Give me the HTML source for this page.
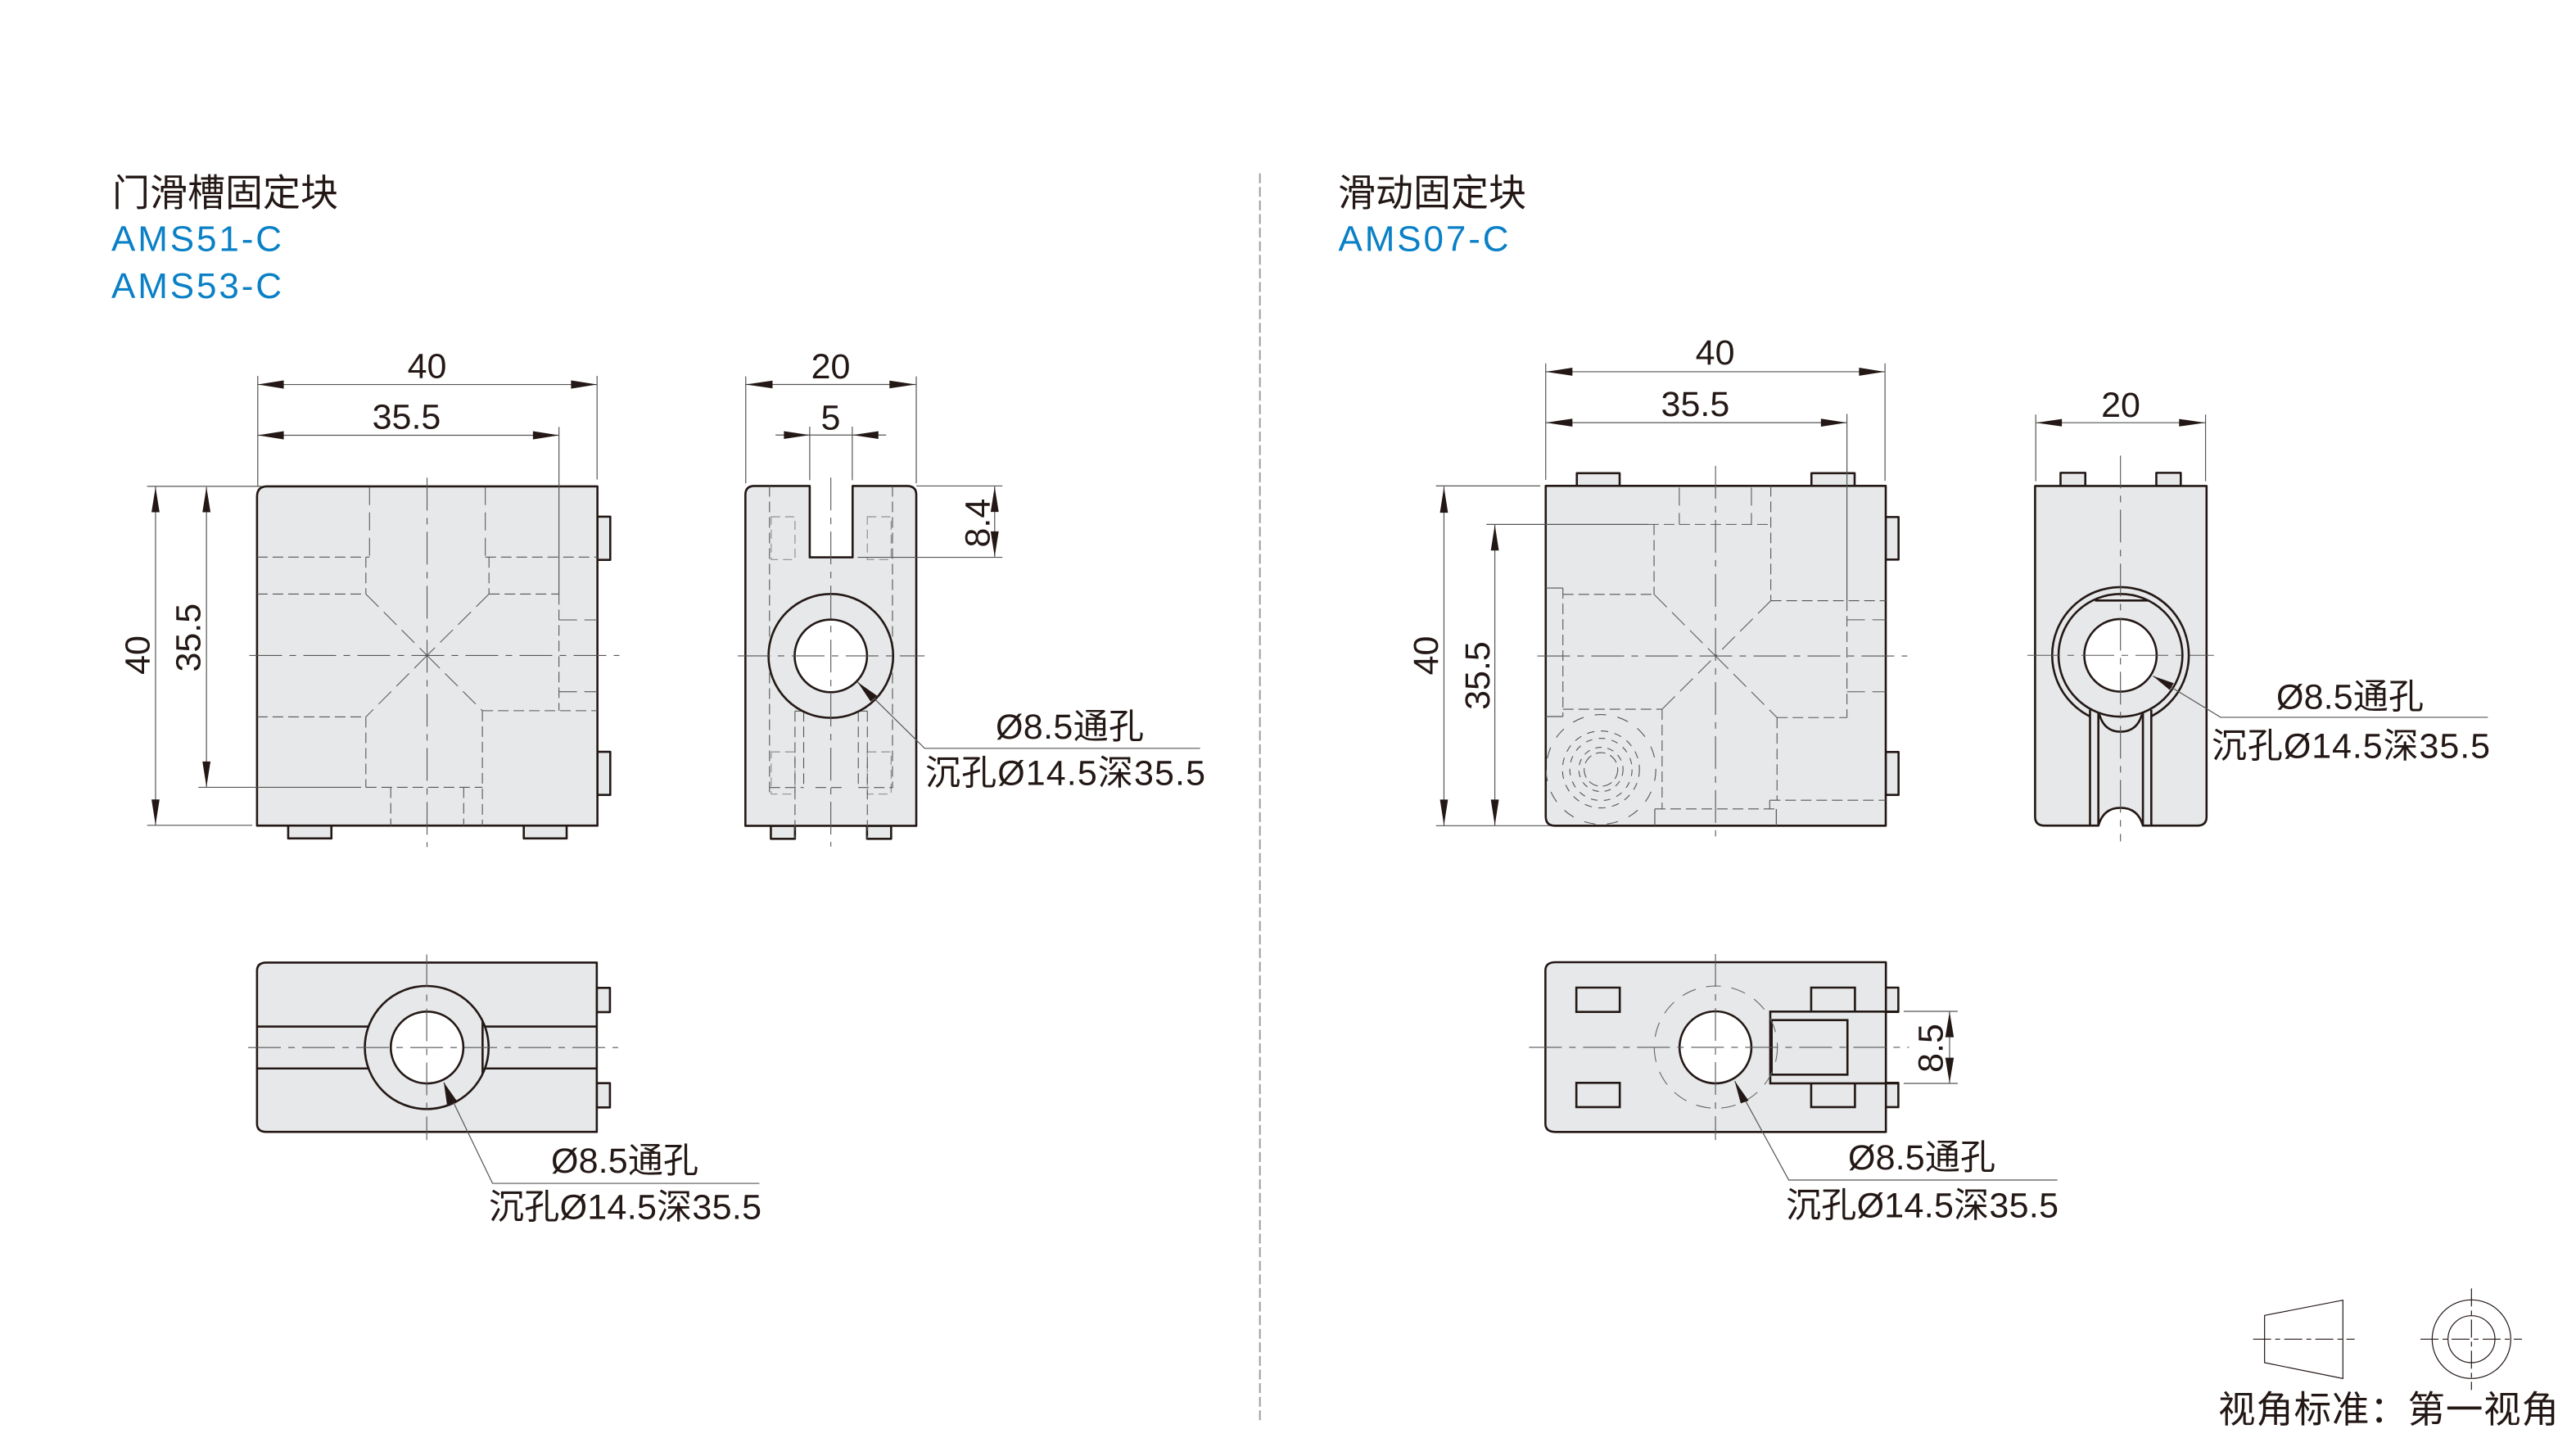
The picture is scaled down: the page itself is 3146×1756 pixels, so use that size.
<!DOCTYPE html>
<html><head><meta charset="utf-8"><title>AMS</title>
<style>
html,body{margin:0;padding:0;background:#fff}
svg{display:block}
svg *{vector-effect:non-scaling-stroke}
text{font-family:"Liberation Sans","Noto Sans CJK SC",sans-serif;fill:#231815;font-size:43px}
.b{fill:#0a80c6;font-size:44px}
.o{fill:#e7e8ea;stroke:#231815;stroke-width:2.6;stroke-linejoin:round}
.w{fill:#fff;stroke:#231815;stroke-width:2.6}
.l{fill:none;stroke:#231815;stroke-width:2.6}
.m{fill:none;stroke:#555;stroke-width:1.2}
.d{fill:none;stroke:#555;stroke-width:1.1;stroke-dasharray:13 6}
.e{fill:none;stroke:#999;stroke-width:1.3;stroke-dasharray:11 6}
.g{fill:none;stroke:#555;stroke-width:1.05;stroke-dasharray:22 9}
.c{fill:none;stroke:#555;stroke-width:1.1;stroke-dasharray:40 9 8 9}
.a{fill:#231815}
</style></head><body>
<svg xmlns="http://www.w3.org/2000/svg" width="3146" height="1756" viewBox="0 0 3146 1756">
<rect width="3146" height="1756" fill="#fff"/>
<line x1="1538.7" y1="211.7" x2="1538.7" y2="1737" stroke="#9d9d9d" stroke-width="2" stroke-dasharray="12 4.6"/>

<!-- titles -->
<text x="137" y="251.5" style="font-size:46px" textLength="276">门滑槽固定块</text>
<text class="b" x="136" y="306.5" textLength="208">AMS51-C</text>
<text class="b" x="136" y="364" textLength="208">AMS53-C</text>
<text x="1634" y="251.5" style="font-size:46px" textLength="230">滑动固定块</text>
<text class="b" x="1634.5" y="306.5" textLength="208">AMS07-C</text>

<!-- view 1 -->
<g transform="translate(100 400) scale(.4475 .4215)">
<rect class="o" x="1407" y="548" width="35" height="125"/>
<rect class="o" x="1407" y="1229" width="35" height="125"/>
<rect class="o" x="563" y="1443" width="118" height="37"/>
<rect class="o" x="1206" y="1443" width="117" height="37"/>
<path class="o" d="M478 1443V490Q478 460 505 460H1407V1443Z"/>
<path class="g" d="M785 462V665M1101 462V665"/>
<path class="d" d="M478 665H785M775 665V772M478 772H775M1101 665H1407M1111 665V772M1111 772H1302M1302 772V1110M1093 1110H1407M1093 1110V1443M478 1128H775M775 1128V1332M775 1332H1093M843 1332V1443M1042 1332V1443"/>
<path class="g" d="M775 772L942 950M1111 772L942 950M942 950L1093 1110M942 950L775 1128M1302 847H1407M1302 1055H1407"/>
<path class="c" d="M457 950H1467M942 435V1505"/>
<path class="m" d="M480 140V440M1406 140V440M480 288V460M480 165H1406M480 312H1302M1302 288V772M178 460H490M318 1332H762M178 1442H465M201 460V1442M340 462V1332"/>
<polygon class="a" points="480,165 551,153 551,177"/><polygon class="a" points="1406,165 1335,153 1335,177"/>
<polygon class="a" points="480,312 551,300 551,324"/><polygon class="a" points="1302,312 1231,300 1231,324"/>
<polygon class="a" points="201,462 190,535 212,535"/><polygon class="a" points="201,1441 190,1367 212,1367"/>
<polygon class="a" points="340,462 329,535 351,535"/><polygon class="a" points="340,1331 329,1257 351,1257"/>
</g>
<text x="521.5" y="461.5" text-anchor="middle">40</text>
<text x="496.5" y="523.6" text-anchor="middle">35.5</text>
<text x="182.3" y="800" text-anchor="middle" transform="rotate(-90 182.3 800)">40</text>
<text x="244.7" y="778.7" text-anchor="middle" transform="rotate(-90 244.7 778.7)">35.5</text>

<!-- view 2 -->
<g transform="translate(860 420) scale(.4092 .396)">
<rect class="o" x="199" y="1486" width="72" height="40"/>
<rect class="o" x="486" y="1486" width="72" height="40"/>
<path class="o" d="M123 1486V465Q123 438 150 438H315V658H443V438H605Q633 438 633 465V1486Z"/>
<path class="e" d="M200 533H271V665H200ZM487 533H558V665H487ZM200 1258H271V1388H200ZM487 1258H558V1388H487Z"/>
<path class="d" d="M195 438V1385M562 438V1370M271 1132H487M271 1132V1526M297 1132V1368M460 1132V1368M487 1132V1526M195 1368H297M460 1368H562M332 1368H425"/>
<ellipse class="o" cx="378" cy="962" rx="186" ry="191"/>
<ellipse class="w" cx="378" cy="962" rx="108" ry="112"/>
<path class="c" d="M378 412V1550M100 962H658"/>
<path class="m" d="M124 100V430M633 100V430M124 125H633M315 255V420M442 255V420M213 281H543M633 438H890M458 658H890M867 438V658M458 1043L658 1247H1480"/>
<polygon class="a" points="124,125 204,113 204,137"/><polygon class="a" points="631,125 553,113 553,137"/>
<polygon class="a" points="315,281 238,269 238,293"/><polygon class="a" points="443,281 520,269 520,293"/>
<polygon class="a" points="867,440 855,518 879,518"/><polygon class="a" points="867,656 855,578 879,578"/>
<polygon class="a" points="458,1043 516,1085 497,1103"/>
</g>
<text x="1014.5" y="462" text-anchor="middle">20</text>
<text x="1014.5" y="524.3" text-anchor="middle">5</text>
<text x="1208.7" y="638.6" text-anchor="middle" transform="rotate(-90 1208.7 638.6)">8.4</text>
<text x="1216" y="902" textLength="181">Ø8.5通孔</text>
<text x="1130" y="958.3" textLength="342">沉孔Ø14.5深35.5</text>

<!-- view 3 -->
<g transform="translate(280 1140.5) scale(.4345 .3325)">
<rect class="o" x="1033" y="198" width="37" height="89"/>
<rect class="o" x="1033" y="548" width="37" height="89"/>
<path class="o" d="M1033 105H105Q78 105 78 135V697Q78 727 105 727H1033Z"/>
<path class="l" d="M78 340H390M78 494H390M718 340H1033M718 494H1033"/>
<ellipse class="o" cx="555" cy="417" rx="174" ry="226"/>
<ellipse class="w" cx="556" cy="417" rx="102" ry="132"/>
<path class="l" d="M712 320V515"/>
<path class="c" d="M555 75V757M53 417H1093"/>
<path class="m" d="M603 545L740 916H1490"/>
<polygon class="a" points="603,545 612,627 640,614"/>
</g>
<text x="673" y="1432" textLength="180">Ø8.5通孔</text>
<text x="597" y="1488.3" textLength="333">沉孔Ø14.5深35.5</text>

<!-- view 4 -->
<g transform="translate(1700 400) scale(.447 .4088)">
<rect class="o" x="505" y="435" width="117" height="38"/>
<rect class="o" x="1146" y="435" width="118" height="38"/>
<rect class="o" x="1349" y="566" width="35" height="127"/>
<rect class="o" x="1349" y="1268" width="35" height="128"/>
<path class="o" d="M420 473H1349V1488H445Q420 1488 420 1460Z"/>
<path class="d" d="M716 588V797M700 588H1035M1035 473V816M467 797H716M467 778V1162M467 1140H738M738 1140V1438M718 1438H1050M1035 816H1349M1052 1165H1243M1243 815V1165M1052 1165V1412M1032 1412H1349M1032 1412V1438"/>
<path class="g" d="M785 478V588M982 478V588M716 797L884 981M738 1140L884 981M1035 816L884 981M884 981L1052 1165M1243 873H1349M1243 1088H1349"/>
<path class="m" d="M420 778H467M420 1162H467M718 1438V1488M1050 1438V1488"/>
<path class="c" d="M884 413V1520M397 981H1408"/>
<path class="m" d="M420 107V455M1347 107V458M420 132H1347M420 284H1243M1243 258V815M120 473H405M120 1488H430M258 588H700M142 475V1487M281 588V1487"/>
<polygon class="a" points="420,132 493,120 493,144"/><polygon class="a" points="1346,132 1276,120 1276,144"/>
<polygon class="a" points="421,284 493,272 493,296"/><polygon class="a" points="1242,284 1172,272 1172,296"/>
<polygon class="a" points="142,476 131,553 153,553"/><polygon class="a" points="142,1487 131,1410 153,1410"/>
<polygon class="a" points="281,589 270,666 292,666"/><polygon class="a" points="281,1487 270,1410 292,1410"/>
</g>
<clipPath id="cp"><rect x="1888" y="860" width="160" height="148"/></clipPath>
<g clip-path="url(#cp)" fill="none" stroke="#555" stroke-width="1.1">
<circle cx="1955.2" cy="939.6" r="67" stroke-dasharray="14 14"/>
<circle cx="1955.2" cy="939.6" r="47" stroke-dasharray="9 8"/>
<circle cx="1955.2" cy="939.6" r="38" stroke-dasharray="8 8"/>
<circle cx="1955.2" cy="939.6" r="27" stroke-dasharray="8 7"/>
<circle cx="1955.2" cy="939.6" r="20.5" stroke-dasharray="12 6"/>
</g>
<text x="2094.6" y="445.2" text-anchor="middle">40</text>
<text x="2070.4" y="508" text-anchor="middle">35.5</text>
<text x="1756.2" y="800.5" text-anchor="middle" transform="rotate(-90 1756.2 800.5)">40</text>
<text x="1819" y="825" text-anchor="middle" transform="rotate(-90 1819 825)">35.5</text>

<!-- view 5 -->
<g transform="translate(2440 440.5) scale(.409 .3823)">
<rect class="o" x="187" y="358" width="74" height="42"/>
<rect class="o" x="473" y="358" width="73" height="42"/>
<path class="o" d="M111 400H623V1457Q623 1485 595 1485H433Q418 1428 366 1428Q315 1428 300 1485H140Q111 1485 111 1457Z"/>
<ellipse class="l" cx="366" cy="941" rx="204" ry="218"/>
<rect x="276" y="1118" width="181" height="60" fill="#e7e8ea"/>
<path class="l" d="M275 1115V1485M300 1125V1485M433 1125V1485M458 1115V1485"/>
<path class="l" d="M303 1130Q318 1185 366 1185Q415 1185 430 1130"/>
<ellipse class="l" cx="366" cy="941" rx="185" ry="196"/>
<path class="l" d="M290 766H450"/>
<ellipse class="w" cx="366" cy="941" rx="108" ry="116"/>
<path class="c" d="M366 303V1535M88 941H645"/>
<path class="m" d="M113 172V385M620 172V385M113 198H620M463 1007L665 1139H1463"/>
<polygon class="a" points="114,198 191,186 191,210"/><polygon class="a" points="619,198 541,186 541,210"/>
<polygon class="a" points="463,1007 525,1030 513,1052"/>
</g>
<text x="2590" y="509.2" text-anchor="middle">20</text>
<text x="2780" y="865.7" textLength="180">Ø8.5通孔</text>
<text x="2701" y="925.5" textLength="340">沉孔Ø14.5深35.5</text>

<!-- view 6 -->
<g transform="translate(1850 1140) scale(.4345 .3333)">
<rect class="o" x="1043" y="198" width="35" height="89"/>
<rect class="o" x="1043" y="547" width="35" height="89"/>
<path class="o" d="M1043 105H115Q86 105 86 135V697Q86 727 115 727H1043Z"/>
<rect class="l" x="173" y="198" width="122" height="89"/>
<rect class="l" x="173" y="547" width="122" height="89"/>
<path class="l" d="M833 286V198H956V286M833 549V636H956V549"/>
<path class="l" d="M1078 286H718V549H1078"/>
<rect class="l" x="722" y="317" width="213" height="200"/>
<ellipse cx="565" cy="416" rx="173" ry="224" fill="none" stroke="#666" stroke-width="1.1" stroke-dasharray="18 13"/>
<ellipse class="w" cx="564" cy="417" rx="101" ry="132"/>
<path class="c" d="M564 75V757M40 417H1108"/>
<path class="m" d="M1093 285H1245M1093 549H1245M1222 285V549M618 540L770 903H1525"/>
<polygon class="a" points="1222,287 1210,380 1234,380"/><polygon class="a" points="1222,547 1210,455 1234,455"/>
<polygon class="a" points="618,540 635,622 657,612"/>
</g>
<text x="2372.3" y="1280" text-anchor="middle" transform="rotate(-90 2372.3 1280)">8.5</text>
<text x="2257" y="1428" textLength="180">Ø8.5通孔</text>
<text x="2181" y="1486.7" textLength="333">沉孔Ø14.5深35.5</text>

<!-- legend -->
<g transform="translate(2690 1560) scale(.33333)" fill="none" stroke="#231815" stroke-width="1.2">
<polygon points="227,139 514,83 514,370 227,312"/>
<circle cx="985" cy="226" r="144"/>
<circle cx="985" cy="226" r="86"/>
<path stroke-dasharray="22 5 6 5" d="M185 226H557M798 226H1170M985 40V412"/>
</g>
<text x="2709" y="1737" style="font-size:45.5px" textLength="416">视角标准：第一视角</text>
</svg>
</body></html>
